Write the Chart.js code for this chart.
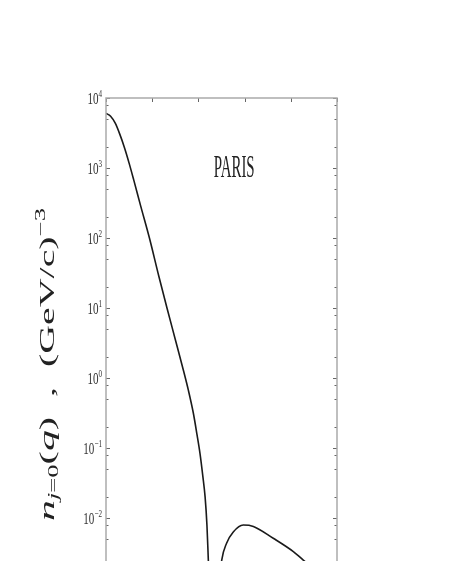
<!DOCTYPE html>
<html>
<head>
<meta charset="utf-8">
<script src="https://cdn.jsdelivr.net/npm/chart.js@4"></script>
<style>
  html, body { margin: 0; padding: 0; background: #fff; overflow: hidden; }
  #wrap { width: 456px; height: 700px; }
</style>
</head>
<body>
<div id="wrap"><canvas id="c" width="456" height="700"></canvas></div>
<script>
// momentum q (GeV/c) and distribution n(q)
const qValues = [0, 0.02, 0.04, 0.06, 0.08, 0.10, 0.12, 0.15, 0.188, 0.229, 0.264, 0.30, 0.335, 0.357, 0.378, 0.394, 0.407,
  0.419, 0.429, 0.437, 0.443, 0.45, 0.463, 0.48, 0.49, 0.501, 0.522, 0.551, 0.594, 0.638, 0.724, 0.811, 0.854, 0.9, 0.95, 1.0];
const nValues = [6040, 5495, 4365, 3020, 1950, 1175, 676, 288, 100, 28.2, 10, 3.55, 1.29, 0.66, 0.316, 0.155, 0.0832,
  0.04, 0.02, 0.0079, 0.00251, 0.00063, 0.000032, 0.0004, 0.00112, 0.00251, 0.00437, 0.00631, 0.00794, 0.00759, 0.00513, 0.00331, 0.00251, 0.00191, 0.00138, 0.001];
const xTicks = [0, 0.2, 0.4, 0.6, 0.8, 1.0];
const yExps = [-4, -3, -2, -1, 0, 1, 2, 3, 4];
const yMinorMult = [2, 5, 8];
const modelName = 'PARIS';

const points = qValues.map((q, i) => ({x: q, y: nValues[i]}));

const frame = {
  id: 'frame',
  afterDraw(chart) {
    const {ctx, chartArea: a, scales: {x, y}} = chart;
    ctx.save();
    // inward tick marks
    ctx.strokeStyle = '#666';
    ctx.lineWidth = 1;
    ctx.beginPath();
    yExps.forEach(e => {
      const p = Math.round(y.getPixelForValue(Math.pow(10, e))) + 0.5;
      ctx.moveTo(a.left, p); ctx.lineTo(a.left + 4, p);
      ctx.moveTo(a.right, p); ctx.lineTo(a.right - 4, p);
      if (e < 4) {
        yMinorMult.forEach(m => {
          const pm = Math.round(y.getPixelForValue(m * Math.pow(10, e))) + 0.5;
          ctx.moveTo(a.left, pm); ctx.lineTo(a.left + 2.5, pm);
          ctx.moveTo(a.right, pm); ctx.lineTo(a.right - 2.5, pm);
        });
      }
    });
    xTicks.forEach(v => {
      const p = Math.round(x.getPixelForValue(v)) + 0.5;
      ctx.moveTo(p, a.top); ctx.lineTo(p, a.top + 4);
      ctx.moveTo(p, a.bottom); ctx.lineTo(p, a.bottom - 4);
    });
    ctx.stroke();
    // frame
    ctx.strokeStyle = '#aaa';
    ctx.lineWidth = 1.5;
    ctx.strokeRect(a.left, a.top, a.width, a.height);

    // y tick labels 10^n
    ctx.fillStyle = '#333';
    ctx.textBaseline = 'alphabetic';
    yExps.forEach(e => {
      const p = y.getPixelForValue(Math.pow(10, e));
      const exp = String(e).replace('-', '\u2212');
      ctx.save();
      ctx.translate(a.left - 4, p);
      ctx.scale(0.65, 1);
      ctx.font = '11px "Liberation Serif"';
      const ew = ctx.measureText(exp).width;
      ctx.textAlign = 'right';
      ctx.fillText(exp, 0, -1);
      ctx.font = '17px "Liberation Serif"';
      ctx.fillText('10', -ew, 6);
      ctx.restore();
    });

    // model name
    ctx.save();
    ctx.translate(x.getPixelForValue(0.555), y.getPixelForValue(1000));
    ctx.scale(0.48, 1);
    ctx.font = '31px "Liberation Serif"';
    ctx.textAlign = 'center';
    ctx.textBaseline = 'middle';
    ctx.fillStyle = '#222';
    ctx.fillText(modelName, 0, 1);
    ctx.restore();

    // y axis title
    const parts = [
      {t: 'n', f: 'italic 22px "Liberation Serif"', dy: 0},
      {t: 'j', f: 'italic 14px "Liberation Serif"', dy: 4},
      {t: '=0', f: '14px "Liberation Serif"', dy: 4},
      {t: '(', f: '21px "Liberation Serif"', dy: 0},
      {t: 'q', f: 'italic 22px "Liberation Serif"', dy: 0},
      {t: ')  ,  (GeV/c)', f: '21px "Liberation Serif"', dy: 0},
      {t: '\u22123', f: '14px "Liberation Serif"', dy: -9}
    ];
    ctx.save();
    ctx.translate(54, 521);
    ctx.rotate(-Math.PI / 2);
    ctx.scale(1.9, 1);
    ctx.fillStyle = '#222';
    ctx.textAlign = 'left';
    let cx = 0;
    parts.forEach(pt => {
      ctx.font = pt.f;
      ctx.fillText(pt.t, cx, pt.dy);
      cx += ctx.measureText(pt.t).width;
    });
    ctx.restore();
    ctx.restore();
  }
};

new Chart(document.getElementById('c'), {
  type: 'line',
  data: {
    datasets: [{
      data: points,
      borderColor: '#1a1a1a',
      borderWidth: 1.6,
      pointRadius: 0,
      cubicInterpolationMode: 'monotone',
      fill: false
    }]
  },
  options: {
    responsive: false,
    animation: false,
    layout: { padding: { left: 106, top: 98, right: 119, bottom: 42 } },
    plugins: { legend: { display: false }, tooltip: { enabled: false } },
    scales: {
      x: { type: 'linear', min: 0, max: 1, display: false },
      y: { type: 'logarithmic', min: 1e-4, max: 1e4, display: false }
    }
  },
  plugins: [frame]
});
</script>
</body>
</html>
